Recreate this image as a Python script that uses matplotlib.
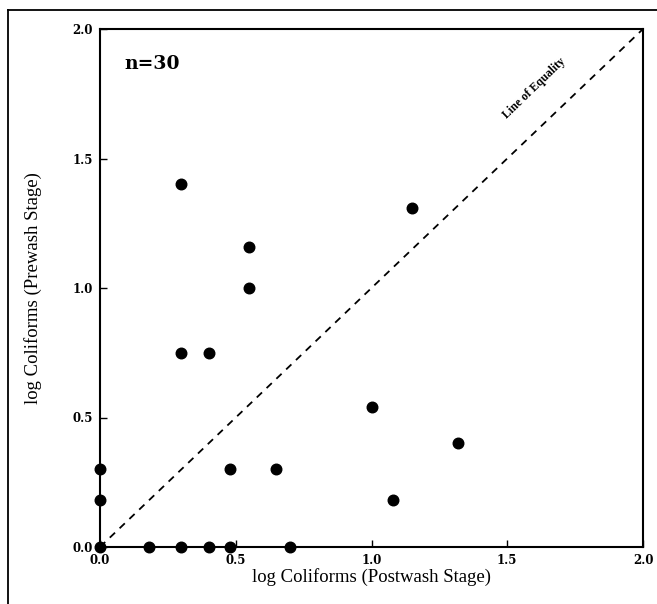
import matplotlib
matplotlib.use("Agg")
import matplotlib.pyplot as plt
from matplotlib.lines import Line2D

# Data
postwash = [0.00, 0.00, 0.00, 0.18, 0.30, 0.40, 0.48, 0.70,
            0.30, 0.30, 0.40, 0.55, 0.55, 0.48, 0.65,
            1.00, 1.15, 1.32, 1.08]
prewash = [0.00, 0.18, 0.30, 0.00, 0.00, 0.00, 0.00, 0.00,
           1.40, 0.75, 0.75, 1.16, 1.00, 0.30, 0.30,
           0.54, 1.31, 0.40, 0.18]
ticks = [0.0, 0.5, 1.0, 1.5, 2.0]
tick_labels = ["0.0", "0.5", "1.0", "1.5", "2.0"]
equality = [0.0, 2.0]

fig = plt.figure(figsize=(6.57, 6.04), dpi=100)
ax = fig.add_axes([100/657, 57/604, 543/657, 518/604])

ax.plot(equality, equality, linestyle=(0, (4, 3.5)), color="black", lw=1.3)
ax.plot(postwash, prewash, "o", color="black", markersize=7.6, clip_on=False, zorder=5)

ax.set_xlim(0, 2)
ax.set_ylim(0, 2)
ax.set_xticks(ticks)
ax.set_yticks(ticks)
ax.set_xticklabels(tick_labels)
ax.set_yticklabels(tick_labels)
ax.tick_params(direction="in", length=5, width=1, pad=5)
for lab in ax.get_xticklabels() + ax.get_yticklabels():
    lab.set_fontfamily("DejaVu Serif")
    lab.set_fontweight("bold")
    lab.set_fontsize(8.5)
for s in ax.spines.values():
    s.set_linewidth(1.5)

ax.set_xlabel("log Coliforms (Postwash Stage)", fontfamily="Liberation Serif",
              fontsize=13.5, labelpad=1)
ax.set_ylabel("log Coliforms (Prewash Stage)", fontfamily="Liberation Serif",
              fontsize=13.5, labelpad=22)

ax.text(0.045, 0.95, "n=30", transform=ax.transAxes, fontfamily="DejaVu Serif",
        fontsize=13.5, fontweight="bold", va="top", ha="left")
ax.text(1.6, 1.77, "Line of Equality", fontfamily="Liberation Serif",
        fontweight="bold", fontsize=8.5, rotation=44, ha="center", va="center",
        rotation_mode="anchor")

# outer frame (top and left edges)
fig.add_artist(Line2D([8/657, 1.0], [1 - 10/604, 1 - 10/604], color="black", lw=1.3,
                      transform=fig.transFigure))
fig.add_artist(Line2D([8/657, 8/657], [0.0, 1 - 10/604], color="black", lw=1.3,
                      transform=fig.transFigure))

fig.savefig("out.png", dpi=100)
